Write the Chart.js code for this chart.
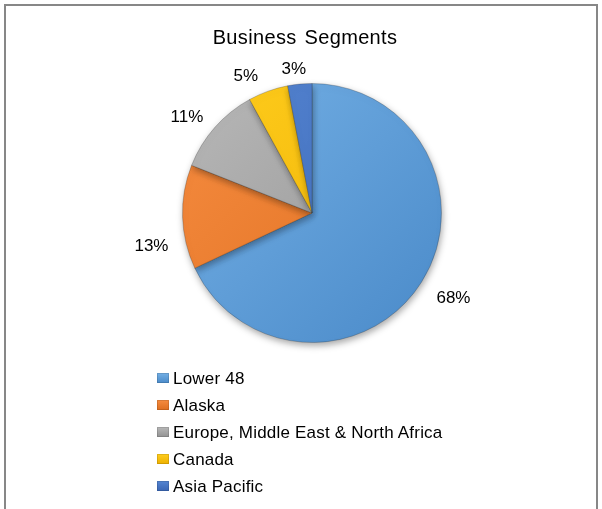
<!DOCTYPE html>
<html>
<head>
<meta charset="utf-8">
<script src="https://cdn.jsdelivr.net/npm/chart.js@4/dist/chart.umd.min.js"></script>
<style>
  html, body { margin: 0; padding: 0; background: #fff; }
  #wrap { position: relative; width: 602px; height: 509px; overflow: hidden; font-family: "Liberation Sans", Arial, sans-serif; color: #000; }
  #frame { position: absolute; left: 4px; top: 4px; width: 590px; height: 520px; border: 2px solid #878787; box-sizing: content-box; }
  #c { position: absolute; left: 0; top: 0; }
  #title { position: absolute; left: 0; width: 610px; top: 25px; text-align: center; font-size: 20px; line-height: 24px; letter-spacing: 0.35px; word-spacing: 2px; }
  #legend { position: absolute; left: 157px; top: 365px; font-size: 17px; line-height: 27px; letter-spacing: 0.2px; }
  .row { position: relative; height: 27px; padding-left: 16px; white-space: nowrap; }
  .box { position: absolute; left: 0; top: 8px; width: 12px; height: 10px; box-shadow: inset 0 0 0 1px rgba(0,0,0,0.12); }
</style>
</head>
<body>
<div id="wrap">
  <div id="frame"></div>
  <canvas id="c" width="602" height="509"></canvas>
  <div id="title"></div>
  <div id="legend"></div>
</div>
<script>
const chartTitle = "Business Segments";
const categories = ["Lower 48", "Alaska", "Europe, Middle East & North Africa", "Canada", "Asia Pacific"];
const shares = [68, 13, 11, 5, 3];
const lightColors = ["#74B0E5", "#F68C40", "#B8B8B8", "#FFCD1E", "#5585D2"];
const darkColors  = ["#4A8AC9", "#DE6E1F", "#929292", "#EDB000", "#3A66B4"];

document.getElementById('title').textContent = chartTitle;

const legendEl = document.getElementById('legend');
categories.forEach((name, i) => {
  const row = document.createElement('div');
  row.className = 'row';
  const box = document.createElement('span');
  box.className = 'box';
  box.style.background = `linear-gradient(${lightColors[i]}, ${darkColors[i]})`;
  row.appendChild(box);
  row.appendChild(document.createTextNode(name));
  legendEl.appendChild(row);
});

function sliceFill(ctx) {
  const chart = ctx.chart;
  const area = chart.chartArea;
  const i = ctx.dataIndex;
  if (!area) return lightColors[i];
  const g = chart.ctx.createLinearGradient(area.left, area.top, area.right, area.bottom);
  g.addColorStop(0, lightColors[i]);
  g.addColorStop(1, darkColors[i]);
  return g;
}

const shadowPlugin = {
  id: 'shadow',
  beforeDatasetsDraw(chart) {
    const c = chart.ctx;
    c.save();
    c.shadowColor = 'rgba(0,0,0,0.35)';
    c.shadowBlur = 7;
    c.shadowOffsetX = 1;
    c.shadowOffsetY = 3;
  },
  afterDatasetsDraw(chart) {
    chart.ctx.restore();
  }
};

// outside-end percentage labels; small per-label nudges mimic the spreadsheet's "best fit" placement
const labelPlugin = {
  id: 'pctLabels',
  afterDraw(chart, args, opts) {
    const c = chart.ctx;
    const meta = chart.getDatasetMeta(0);
    const data = chart.data.datasets[0].data;
    const total = data.reduce((a, b) => a + b, 0);
    const fontSize = opts.fontSize;
    const cap = 0.716 * fontSize;
    c.save();
    c.font = `${fontSize}px "Liberation Sans", Arial, sans-serif`;
    c.fillStyle = '#000';
    c.textAlign = 'center';
    c.textBaseline = 'alphabetic';
    meta.data.forEach((arc, i) => {
      const p = arc.getProps(['x', 'y', 'startAngle', 'endAngle', 'outerRadius'], true);
      const nudge = opts.nudges[i] || [0, 0];
      const mid = (p.startAngle + p.endAngle) / 2 + nudge[0] * Math.PI / 180;
      const gap = opts.gap + nudge[1];
      const txt = Math.round(data[i] / total * 100) + '%';
      const w = c.measureText(txt).width;
      const ax = p.x + Math.cos(mid) * (p.outerRadius + gap);
      const ay = p.y + Math.sin(mid) * (p.outerRadius + gap);
      const cx = ax + Math.cos(mid) * w / 2;
      const cy = ay + Math.sin(mid) * 7;
      c.fillText(txt, cx, cy + cap / 2);
    });
    c.restore();
  }
};

new Chart(document.getElementById('c'), {
  type: 'pie',
  data: {
    labels: categories,
    datasets: [{
      data: shares,
      backgroundColor: sliceFill,
      borderColor: 'rgba(40,40,40,0.25)',
      borderWidth: 1
    }]
  },
  options: {
    responsive: false,
    animation: false,
    layout: { padding: { top: 83, bottom: 166, left: 182, right: 160 } },
    plugins: {
      legend: { display: false },
      title: { display: false },
      tooltip: { enabled: false },
      pctLabels: { fontSize: 17, gap: 16, nudges: [[0, 5], [-10, 1.5], [-2, 0], [-5, 0], [-1.5, -6]] }
    }
  },
  plugins: [shadowPlugin, labelPlugin]
});
</script>
</body>
</html>
